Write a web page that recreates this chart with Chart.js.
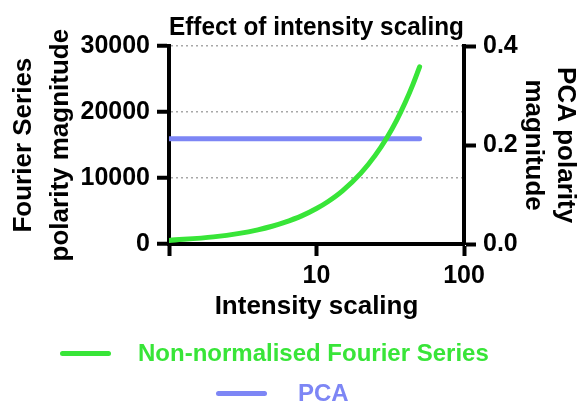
<!DOCTYPE html>
<html>
<head>
<meta charset="utf-8">
<script src="https://cdn.jsdelivr.net/npm/chart.js@4/dist/chart.umd.min.js"></script>
<style>
  html, body { margin: 0; padding: 0; background: #fff; }
  #wrap { position: relative; width: 577px; height: 401px; overflow: hidden; }
  #chart { position: absolute; left: 0; top: 0; }
  .legend-line { position: absolute; height: 5px; border-radius: 3px; }
  .legend-text {
    position: absolute; font: bold 24px "Liberation Sans", Arial, sans-serif;
    line-height: 28px; white-space: nowrap;
  }
</style>
</head>
<body>
<div id="wrap">
  <canvas id="chart" width="577" height="401"></canvas>
</div>
<script>
// values
const intensity = [1, 2, 3, 4, 5, 6, 8, 10, 12, 15, 20, 25, 30, 35, 40, 45, 50];
const fourierMagnitude = [540, 1080, 1610, 2150, 2690, 3230, 4300, 5380, 6450, 8060, 10750, 13440, 16120, 18800, 21500, 24180, 26870];
const pcaMagnitude = [0.213, 0.213, 0.213, 0.213, 0.213, 0.213, 0.213, 0.213, 0.213, 0.213, 0.213, 0.213, 0.213, 0.213, 0.213, 0.213, 0.213];
const xTicks = [1, 10, 100];
const leftTicks = [0, 10000, 20000, 30000];
const rightTicks = [0, 0.2, 0.4];
const seriesNames = ["Non-normalised Fourier Series", "PCA"];

const GREEN = "#38e538";
const BLUE = "#7d86f5";
const FONT = '"Liberation Sans", Arial, sans-serif';

const toPoints = (xs, ys) => xs.map((x, i) => ({ x: x, y: ys[i] }));

const tickFont = { family: FONT, size: 25, weight: "bold" };

const config = {
  type: "line",
  data: {
    datasets: [
      {
        label: seriesNames[0],
        data: toPoints(intensity, fourierMagnitude),
        yAxisID: "yLeft",
        borderColor: GREEN,
        backgroundColor: GREEN,
        borderWidth: 5,
        borderCapStyle: "round",
        pointRadius: 0,
        cubicInterpolationMode: "monotone",
      },
      {
        label: seriesNames[1],
        data: toPoints(intensity, pcaMagnitude),
        yAxisID: "yRight",
        borderColor: BLUE,
        backgroundColor: BLUE,
        borderWidth: 5,
        borderCapStyle: "round",
        pointRadius: 0,
      },
    ],
  },
  options: {
    responsive: false,
    animation: false,
    layout: { padding: { top: 0, left: 0, right: 0, bottom: 77 } },
    plugins: {
      legend: { display: false },
      tooltip: { enabled: false },
      title: {
        display: true,
        text: "Effect of intensity scaling",
        color: "#000",
        fullSize: false,
        font: { family: FONT, size: 26, weight: "bold" },
        padding: { top: 12, bottom: 3 },
      },
    },
    scales: {
      x: {
        type: "logarithmic",
        min: 1,
        max: 100,
        afterBuildTicks: (scale) => {
          scale.ticks = xTicks.map((v) => ({ value: v }));
        },
        afterFit: (scale) => { scale.height = 80; },
        ticks: {
          color: "#000",
          font: tickFont,
          padding: 5,
          maxRotation: 0,
          callback: (v) => (v === 1 ? "" : String(v)),
        },
        grid: {
          drawOnChartArea: false,
          tickLength: 12,
          tickWidth: 4,
          tickColor: "#000",
        },
        border: { display: true, color: "#000", width: 4 },
        title: {
          display: true,
          text: "Intensity scaling",
          color: "#000",
          font: { family: FONT, size: 26, weight: "bold" },
          padding: { top: 0, bottom: 2 },
        },
      },
      yLeft: {
        type: "linear",
        position: "left",
        min: 0,
        max: 30000,
        afterBuildTicks: (scale) => {
          scale.ticks = leftTicks.map((v) => ({ value: v }));
        },
        afterFit: (scale) => { scale.width = 169; },
        ticks: {
          color: "#000",
          font: tickFont,
          padding: 7,
          callback: (v) => String(v),
        },
        grid: {
          color: (ctx) => (ctx.tick && ctx.tick.value === 0 ? "rgba(0,0,0,0)" : "#a8a8a8"),
          lineWidth: 1.5,
          tickLength: 12,
          tickWidth: 4,
          tickColor: "#000",
        },
        border: { display: true, color: "#000", width: 4, dash: [2, 3] },
        title: {
          display: true,
          text: ["Fourier Series", "polarity magnitude"],
          color: "#000",
          font: { family: FONT, size: 26, weight: "bold", lineHeight: 1.4 },
          padding: { top: 6, bottom: 0 },
        },
      },
      yRight: {
        type: "linear",
        position: "right",
        min: 0,
        max: 0.4,
        afterBuildTicks: (scale) => {
          scale.ticks = rightTicks.map((v) => ({ value: v }));
        },
        afterFit: (scale) => { scale.width = 113; },
        ticks: {
          color: "#000",
          font: tickFont,
          padding: 7,
          callback: (v) => Number(v).toFixed(1),
        },
        grid: {
          drawOnChartArea: false,
          tickLength: 12,
          tickWidth: 4,
          tickColor: "#000",
        },
        border: { display: true, color: "#000", width: 4 },
        title: {
          display: true,
          text: ["PCA polarity", "magnitude"],
          color: "#000",
          font: { family: FONT, size: 26, weight: "bold", lineHeight: 1.23 },
          padding: { top: -4, bottom: 0 },
        },
      },
    },
  },
};

const chart = new Chart(document.getElementById("chart"), config);

// legend rows under the plot, built from the datasets
const wrap = document.getElementById("wrap");
const legendRows = [
  { lineLeft: 60, textLeft: 138, y: 353 },
  { lineLeft: 216, textLeft: 298, y: 393 },
];
chart.data.datasets.forEach((ds, i) => {
  const row = legendRows[i];
  const line = document.createElement("div");
  line.className = "legend-line";
  line.style.left = row.lineLeft + "px";
  line.style.top = row.y - 2.5 + "px";
  line.style.width = "51px";
  line.style.background = ds.borderColor;
  wrap.appendChild(line);

  const text = document.createElement("div");
  text.className = "legend-text";
  text.style.left = row.textLeft + "px";
  text.style.top = row.y - 14 + "px";
  text.style.color = ds.borderColor;
  text.textContent = ds.label;
  wrap.appendChild(text);
});
</script>
</body>
</html>
